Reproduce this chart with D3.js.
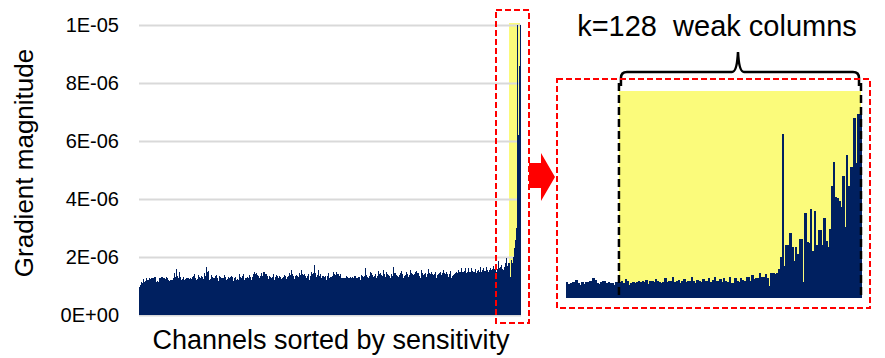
<!DOCTYPE html>
<html>
<head>
<meta charset="utf-8">
<script src="https://cdn.jsdelivr.net/npm/d3@7"></script>
<style>
    body { margin: 0; background: #fff; }
    svg { display: block; font-family: Arial, "Liberation Sans", sans-serif; }
</style>
</head>
<body>
<div id="chart-container"></div>
<script>
const yTickValues = [0, 2e-6, 4e-6, 6e-6, 8e-6, 1e-5];
const yTickLabels = ["0E+00", "2E-06", "4E-06", "6E-06", "8E-06", "1E-05"];
const yTitle = "Gradient magnitude";
const xTitle = "Channels sorted by sensitivity";
const weakLabel = "k=128  weak columns";
const totalChannels = 4096;
const weakCount = 128;

// full view, gradient per channel (units of 1e-6), sorted
const channelGrad = [
    0.98,1.05,1.15,1.12,1.24,1.15,1.18,1.26,1.22,1.21,
    1.26,1.24,1.26,1.28,1.29,1.32,1.30,1.15,1.16,1.15,
    1.29,1.27,1.32,1.30,1.26,1.26,1.24,1.32,1.28,1.21,
    1.18,1.20,1.21,1.19,1.26,1.44,1.30,1.59,1.35,1.26,
    1.47,1.30,1.21,1.24,1.32,1.21,1.25,1.29,1.27,1.29,
    1.24,1.26,1.24,1.30,1.35,1.40,1.28,1.21,1.23,1.38,
    1.31,1.27,1.35,1.30,1.24,1.44,1.36,1.64,1.50,1.52,
    1.21,1.25,1.38,1.30,1.29,1.29,1.33,1.38,1.26,1.18,
    1.35,1.30,1.26,1.28,1.26,1.38,1.32,1.21,1.25,1.32,
    1.29,1.31,1.35,1.30,1.18,1.26,1.30,1.21,1.24,1.21,
    1.40,1.30,1.26,1.33,1.40,1.21,1.27,1.29,1.30,1.29,
    1.38,1.32,1.21,1.30,1.40,1.49,1.40,1.44,1.38,1.35,
    1.26,1.35,1.44,1.36,1.49,1.49,1.42,1.40,1.33,1.24,
    1.35,1.30,1.26,1.32,1.40,1.21,1.30,1.38,1.33,1.26,
    1.35,1.30,1.24,1.28,1.32,1.38,1.33,1.24,1.30,1.35,
    1.44,1.38,1.55,1.40,1.35,1.24,1.33,1.38,1.35,1.32,
    1.44,1.38,1.55,1.42,1.38,1.40,1.35,1.26,1.33,1.40,
    1.21,1.35,1.49,1.40,1.44,1.72,1.45,1.32,1.38,1.55,
    1.35,1.40,1.26,1.33,1.35,1.32,1.36,1.21,1.35,1.44,
    1.26,1.30,
    1.32,1.36,1.49,1.40,1.38,1.47,1.40,1.40,1.36,1.40,
    1.26,1.28,1.29,1.27,1.29,1.36,1.30,1.26,1.28,1.32,
    1.26,1.30,1.29,1.33,1.36,1.26,1.28,1.32,1.30,1.21,
    1.38,1.33,1.32,1.35,1.61,1.38,1.32,1.29,1.34,1.49,
    1.44,1.38,1.32,1.36,1.40,1.26,1.33,1.52,1.40,1.44,
    1.38,1.35,1.55,1.42,1.32,1.49,1.40,1.38,1.34,1.29,
    1.40,1.36,1.67,1.45,1.44,1.38,1.35,1.32,1.38,1.44,
    1.52,1.40,1.29,1.35,1.38,1.47,1.40,1.32,1.38,1.55,
    1.44,1.40,1.38,1.42,1.49,1.52,1.44,1.44,1.36,1.29,
    1.55,1.45,1.38,1.42,1.44,1.32,1.40,1.59,1.45,1.40,
    1.47,1.42,1.38,1.43,1.49,1.29,1.38,1.40,1.44,1.47,
    1.38,1.45,1.55,1.46,1.40,1.49,1.42,1.32,1.40,1.52,
    1.26,1.36,1.38,1.42,1.44,1.49,1.45,1.55,1.48,1.47,
    1.61,1.50,1.47,1.52,1.63,1.44,1.50,1.61,1.48,1.49,
    1.61,1.52,1.47,1.50,1.59,1.44,1.52,1.55,1.50,1.66,
    1.49,1.55,1.61,1.53,1.52,1.67,1.55,1.49,1.56,1.61,
    1.55,1.60,1.70,1.58,1.61,1.49,1.60,1.86,1.62,1.67,
    1.72,1.60,1.55,1.65,1.81,1.95,1.70,1.78,
    1.80,1.30,1.90,1.80,2.00,2.30,2.60,3.00,10.0,6.20,8.60,10.0
];

// zoomed view of the tail (relative units)
const zoomGrad = [
    1.2,1.05,1.15,1.2,1.2,1.35,1.1,1.0,1.2,1.05,1.2,1.2,1.25,1.25,1.5,1.35,1.1,1.05,1.2,1.3,
    1.25,1.1,1.2,1.15,1.1,1.0,1.2,1.2,
    1.2,1.25,1.15,1.45,1.3,1.0,1.15,1.2,1.15,1.2,1.25,1.2,1.3,1.2,1.35,1.05,1.3,1.25,1.2,1.45,
    1.3,1.2,1.15,1.2,1.5,1.2,1.25,1.3,1.55,1.2,1.25,1.35,1.1,1.3,1.45,1.2,1.3,1.25,1.55,1.3,
    1.15,1.35,1.25,1.2,1.4,1.3,1.25,1.5,1.2,1.35,1.55,1.25,1.3,1.45,
    1.2,1.5,1.3,1.2,1.6,1.1,1.1,1.5,1.25,1.2,1.5,1.35,1.3,1.6,1.6,1.3,1.7,1.45,1.5,1.5,
    1.9,1.6,1.55,1.8,1.5,0.9,1.9,
    1.9,1.8,1.9,2.2,3.1,12.3,2.4,4.0,4.0,4.9,3.8,2.8,3.8,3.3,4.4,4.4,1.2,6.4,4.2,4.1,
    6.7,3.5,6.5,4.0,5.1,5.1,4.0,6.0,4.3,3.8,5.2,8.4,10.2,7.6,7.5,7.3,6.8,9.1,5.3,10.7,
    8.4,9.8,9.8,13.5,10.1,13.8,13.8
];

const chartWidth = 885;
const chartHeight = 358;
const barColor = "#002060";
const highlightColor = "#fbfb7b";
const mainArea = {left: 139, right: 521, top: 25, bottom: 315};
const zoomArea = {left: 566, right: 861, top: 91, bottom: 298};

const svg = d3.select("#chart-container").append("svg")
    .attr("width", chartWidth)
    .attr("height", chartHeight);

/**
 * Full view: all channels with gridlines and the highlighted tail
 */
function drawMainChart() {
    const xScale = d3.scaleBand()
        .domain(d3.range(channelGrad.length))
        .range([mainArea.left, mainArea.right]);
    const yScale = d3.scaleLinear()
        .domain([0, 1e-5])
        .range([mainArea.bottom, mainArea.top]);

    const nWeak = Math.round(channelGrad.length * weakCount / totalChannels);
    const firstWeak = channelGrad.length - nWeak;

    svg.append("rect")
        .attr("x", xScale(firstWeak))
        .attr("y", yScale(1e-5) - 2)
        .attr("width", xScale(channelGrad.length - 1) - xScale(firstWeak))
        .attr("height", yScale(0) - yScale(1e-5) + 2)
        .attr("fill", highlightColor);

    const yAxis = d3.axisLeft(yScale)
        .tickValues(yTickValues)
        .tickSize(-(mainArea.right - mainArea.left))
        .tickPadding(20)
        .tickFormat((d, i) => yTickLabels[i]);

    const axisG = svg.append("g")
        .attr("transform", `translate(${mainArea.left},0)`)
        .call(yAxis);
    axisG.select(".domain").remove();
    axisG.selectAll(".tick line")
        .attr("stroke", "#d9d9d9")
        .attr("stroke-width", 2);
    axisG.selectAll(".tick text")
        .attr("fill", "#000")
        .style("font-size", "20px");

    svg.append("g")
        .selectAll("rect")
        .data(channelGrad)
        .enter()
        .append("rect")
        .attr("x", (d, i) => xScale(i))
        .attr("y", d => yScale(d * 1e-6))
        .attr("width", xScale.bandwidth() + 0.3)
        .attr("height", d => yScale(0) - yScale(d * 1e-6))
        .attr("fill", barColor)
        .attr("shape-rendering", "crispEdges");

    svg.append("text")
        .attr("transform", `translate(33, 163) rotate(-90)`)
        .attr("text-anchor", "middle")
        .style("font-size", "26px")
        .text(yTitle);

    svg.append("text")
        .attr("x", 331)
        .attr("y", 349)
        .attr("text-anchor", "middle")
        .style("font-size", "27px")
        .text(xTitle);

    svg.append("rect")
        .attr("x", 496)
        .attr("y", 10)
        .attr("width", 33)
        .attr("height", 313)
        .attr("fill", "none")
        .attr("stroke", "#ff0000")
        .attr("stroke-width", 2)
        .attr("stroke-dasharray", "6,3");
}

/**
 * Zoomed view of the last channels with the k weak columns marked
 */
function drawZoomChart() {
    const xScale = d3.scaleBand()
        .domain(d3.range(zoomGrad.length))
        .range([zoomArea.left, zoomArea.right]);
    const yScale = d3.scaleLinear()
        .domain([0, 15.5])
        .range([zoomArea.bottom, zoomArea.top]);

    const firstWeak = zoomGrad.length - weakCount;
    const xStart = xScale(firstWeak);
    const xEnd = zoomArea.right;

    svg.append("rect")
        .attr("x", xStart)
        .attr("y", yScale(15.5))
        .attr("width", xEnd - xStart)
        .attr("height", yScale(0) - yScale(15.5))
        .attr("fill", highlightColor);

    svg.append("g")
        .selectAll("rect")
        .data(zoomGrad)
        .enter()
        .append("rect")
        .attr("x", (d, i) => xScale(i))
        .attr("y", d => yScale(d))
        .attr("width", xScale.bandwidth() + 0.6)
        .attr("height", d => yScale(0) - yScale(d))
        .attr("fill", barColor)
        .attr("shape-rendering", "crispEdges");

    // dashed borders of the weak block
    [xStart, xEnd].forEach(x => {
        svg.append("line")
            .attr("x1", x).attr("x2", x)
            .attr("y1", 83).attr("y2", zoomArea.bottom)
            .attr("stroke", "#000")
            .attr("stroke-width", 2.5)
            .attr("stroke-dasharray", "8,4");
    });

    // curly brace over the block
    const bl = xStart + 2, br = xEnd - 2, mid = 738, by = 72;
    svg.append("path")
        .attr("d", `M${bl},86 L${bl},${by + 6} Q${bl},${by} ${bl + 6},${by} L${mid - 6},${by} Q${mid - 1},${by} ${mid},52 ` +
            `Q${mid + 1},${by} ${mid + 6},${by} L${br - 6},${by} Q${br},${by} ${br},${by + 6} L${br},86`)
        .attr("fill", "none")
        .attr("stroke", "#000")
        .attr("stroke-width", 2.5);

    svg.append("text")
        .attr("x", 717)
        .attr("y", 36)
        .attr("text-anchor", "middle")
        .style("font-size", "29px")
        .attr("xml:space", "preserve")
        .style("white-space", "pre")
        .text(weakLabel);

    svg.append("rect")
        .attr("x", 557)
        .attr("y", 79)
        .attr("width", 313)
        .attr("height", 229)
        .attr("fill", "none")
        .attr("stroke", "#ff0000")
        .attr("stroke-width", 2)
        .attr("stroke-dasharray", "6,3");
}

function drawArrow() {
    svg.append("polygon")
        .attr("points", "529,163 541,163 541,153 555,177 541,201 541,188 529,188")
        .attr("fill", "#ff0000");
}

drawMainChart();
drawZoomChart();
drawArrow();
</script>
</body>
</html>
